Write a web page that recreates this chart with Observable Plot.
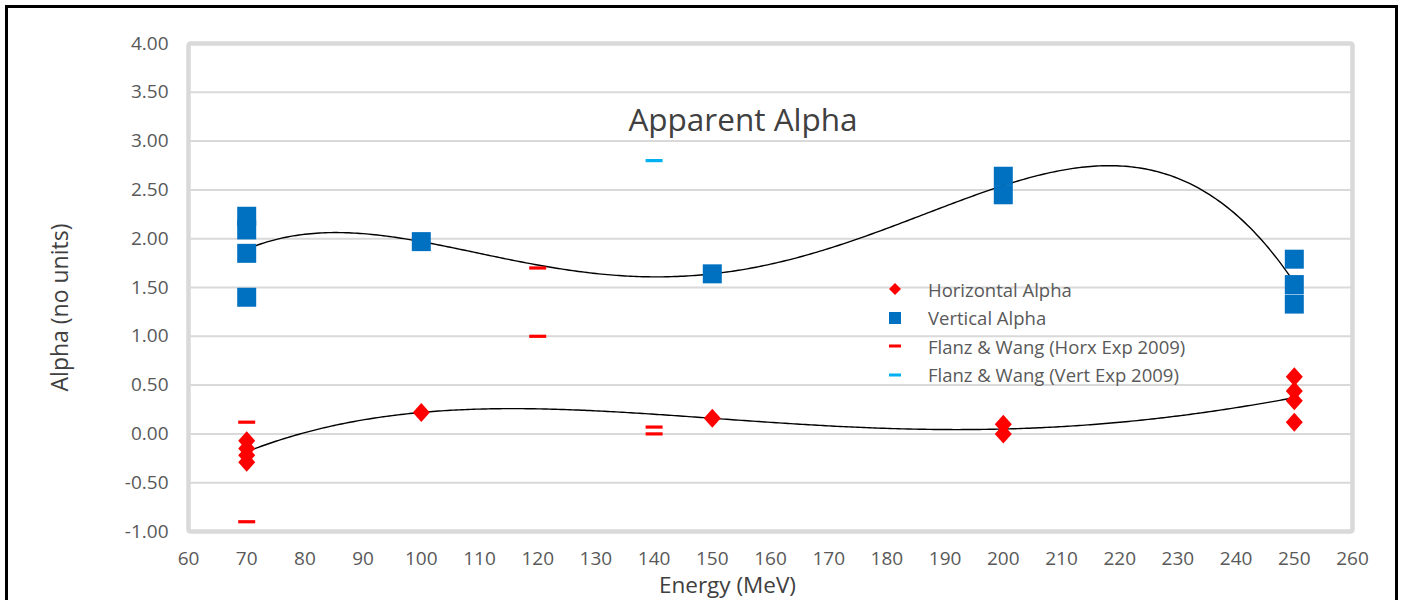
<!DOCTYPE html>
<html>
<head>
<meta charset="utf-8">
<script src="https://cdn.jsdelivr.net/npm/d3@7"></script>
<script src="https://cdn.jsdelivr.net/npm/@observablehq/plot@0.6"></script>
<style>
  html, body { margin: 0; padding: 0; background: #fff; }
  body { width: 1404px; height: 600px; position: relative; overflow: hidden; font-family: "Open Sans", Lato, sans-serif; }
  #border { position: absolute; left: 5px; top: 5px; width: 1393px; height: 600px; border: 3px solid #000; box-sizing: border-box; }
  #chart { position: absolute; left: 0; top: 0; }
  #title { position: absolute; left: 743px; top: 118px; transform: translate(-50%, -50%); font-size: 31.5px; color: #404040; white-space: nowrap; }
  #legend { position: absolute; left: 880px; top: 275px; font-size: 18.5px; color: #595959; }
  #legend .row { height: 28.5px; display: flex; align-items: center; white-space: nowrap; }
  #legend svg { width: 30px; height: 20px; margin-right: 18px; }
</style>
</head>
<body>
<div id="border"></div>
<div id="chart"></div>
<div id="title">Apparent Alpha</div>
<div id="legend"></div>
<script>
// ---- data ----
const hEnergy = [70, 70, 70, 70, 100, 150, 200, 200, 250, 250, 250, 250];
const hAlpha  = [-0.07, -0.15, -0.22, -0.29, 0.22, 0.16, 0.10, 0.00, 0.585, 0.44, 0.34, 0.12];
const vEnergy = [70, 70, 70, 70, 100, 150, 200, 200, 250, 250, 250];
const vAlpha  = [2.23, 2.09, 1.85, 1.40, 1.97, 1.64, 2.64, 2.45, 1.79, 1.53, 1.33];
const fwHEnergy = [70, 70, 120, 120, 140, 140];
const fwHAlpha  = [0.12, -0.90, 1.70, 1.00, 0.07, 0.00];
const fwVEnergy = [140];
const fwVAlpha  = [2.80];
const seriesNames = ["Horizontal Alpha", "Vertical Alpha", "Flanz & Wang (Horx Exp 2009)", "Flanz & Wang (Vert Exp 2009)"];
const xTicks = d3.range(60, 261, 10);
const yTicks = d3.range(-1, 4.01, 0.5);

const RED = "#ff0000", BLUE = "#0070c0", LIGHTBLUE = "#00b0f0";

const zip = (xs, ys) => xs.map((x, i) => ({x, y: ys[i]}));
const hData = zip(hEnergy, hAlpha);
const vData = zip(vEnergy, vAlpha);
const fwH = zip(fwHEnergy, fwHAlpha);
const fwV = zip(fwVEnergy, fwVAlpha);

// order-4 polynomial least-squares trendline (as Excel)
function polyFit(data, order) {
  const c = 160, s = 90;
  const n = order + 1;
  const A = Array.from({length: n}, () => new Array(n + 1).fill(0));
  for (const d of data) {
    const t = (d.x - c) / s;
    const p = [];
    for (let k = 0; k < n; k++) p.push(Math.pow(t, k));
    for (let i = 0; i < n; i++) {
      for (let j = 0; j < n; j++) A[i][j] += p[i] * p[j];
      A[i][n] += p[i] * d.y;
    }
  }
  for (let i = 0; i < n; i++) {
    let m = i;
    for (let r = i + 1; r < n; r++) if (Math.abs(A[r][i]) > Math.abs(A[m][i])) m = r;
    [A[i], A[m]] = [A[m], A[i]];
    for (let r = 0; r < n; r++) {
      if (r === i) continue;
      const f = A[r][i] / A[i][i];
      for (let k = i; k <= n; k++) A[r][k] -= f * A[i][k];
    }
  }
  const coef = A.map((row, i) => row[n] / row[i]);
  return x => { const t = (x - c) / s; return coef.reduce((acc, a, k) => acc + a * Math.pow(t, k), 0); };
}
function trend(data) {
  const f = polyFit(data, 4);
  const [x0, x1] = d3.extent(data, d => d.x);
  return d3.range(x0, x1 + 0.001, 0.5).map(x => ({x, y: f(x)}));
}

const dash = {draw(ctx) { ctx.rect(-8.5, -1.6, 17, 3.2); }};
const rhombus = {draw(ctx) { ctx.moveTo(0, -9.5); ctx.lineTo(8.5, 0); ctx.lineTo(0, 9.5); ctx.lineTo(-8.5, 0); ctx.closePath(); }};
const square = {draw(ctx) { ctx.rect(-9.5, -9.5, 19, 19); }};

const chart = Plot.plot({
  width: 1404,
  height: 600,
  marginLeft: 188,
  marginRight: 52,
  marginTop: 43,
  marginBottom: 69,
  style: {fontFamily: "'Open Sans', Lato, sans-serif", background: "transparent", overflow: "visible"},
  x: {domain: [60, 260]},
  y: {domain: [-1, 4]},
  marks: [
    Plot.gridY(yTicks, {stroke: "#d9d9d9", strokeOpacity: 1, strokeWidth: 2}),
    Plot.frame({stroke: "#d9d9d9", strokeWidth: 4.5, rx: 2}),
    Plot.axisX({ticks: xTicks, tickSize: 0, tickPadding: 20, fontSize: 19, fill: "#595959", label: null}),
    Plot.axisY({ticks: yTicks, tickSize: 0, tickPadding: 20, fontSize: 19, fill: "#595959", tickFormat: d => d.toFixed(2), label: null}),
    Plot.text(["Alpha (no units)"], {frameAnchor: "left", dx: -128, dy: 20, rotate: -90, textAnchor: "middle", fontSize: 23, fill: "#404040"}),
    Plot.text(["Energy (MeV)"], {frameAnchor: "bottom", dx: -43, dy: 61, fontSize: 22.5, fill: "#404040"}),
    Plot.line(trend(vData), {x: "x", y: "y", stroke: "#000", strokeWidth: 1.4}),
    Plot.line(trend(hData), {x: "x", y: "y", stroke: "#000", strokeWidth: 1.4}),
    Plot.dot(vData, {x: "x", y: "y", symbol: square, fill: BLUE, stroke: "none"}),
    Plot.dot(hData, {x: "x", y: "y", symbol: rhombus, fill: RED, stroke: "none"}),
    Plot.dot(fwH, {x: "x", y: "y", symbol: dash, fill: RED, stroke: "none"}),
    Plot.dot(fwV, {x: "x", y: "y", symbol: dash, fill: LIGHTBLUE, stroke: "none"})
  ]
});
document.getElementById("chart").appendChild(chart);

// legend (inside plot area, as in the reference)
const legendSymbols = [
  '<polygon points="15,4 21,10 15,16 9,10" fill="' + RED + '"/>',
  '<rect x="9" y="4" width="12" height="12" fill="' + BLUE + '"/>',
  '<rect x="9" y="8.5" width="12" height="3" fill="' + RED + '"/>',
  '<rect x="9" y="8.5" width="12" height="3" fill="' + LIGHTBLUE + '"/>'
];
const legend = document.getElementById("legend");
seriesNames.forEach((name, i) => {
  const row = document.createElement("div");
  row.className = "row";
  row.innerHTML = '<svg viewBox="0 0 30 20">' + legendSymbols[i] + '</svg><span>' + name + '</span>';
  legend.appendChild(row);
});
</script>
</body>
</html>
